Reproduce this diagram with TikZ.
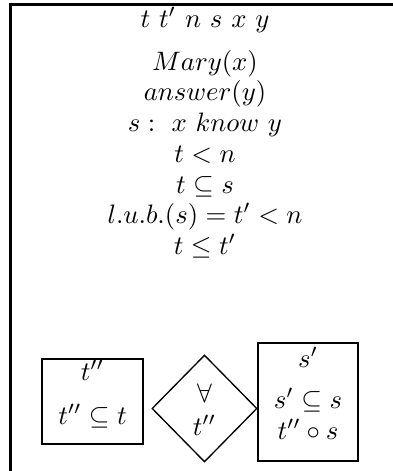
\documentclass[tikz,border=0pt]{standalone}
\usetikzlibrary{shapes.geometric}
\begin{document}
\begin{tikzpicture}[x=0.375pt,y=-0.375pt,
  txt/.style={anchor=base,inner sep=0pt,font=\fontsize{10}{12}\selectfont},
  frame/.style={line width=1.15pt},
  boxe/.style={draw,line width=0.5pt,inner sep=0pt,rectangle},
  dia/.style={draw,line width=0.5pt,inner sep=0pt,diamond}
]
\useasboundingbox (0,0) rectangle (393,471);
\coordinate (fb) at (10.5,471);
\coordinate (fc) at (10.5,4.5);
\coordinate (fr) at (393,4.5);
\draw[frame] (fb) -- (fc) -- (fr);
\node[txt] (t0) at (205,27) {$t\ t'\ n\ s\ x\ y$};
\node[txt] (t1) at (205,70) {$Mary(x)$};
\node[txt] (t2) at (205,100.7) {$answer(y)$};
\node[txt] (t3) at (205,131.4) {$s:\ x\ know\ y$};
\node[txt] (t4) at (205,162) {$t<n$};
\node[txt] (t5) at (205,193) {$t\subseteq s$};
\node[txt] (t6) at (205,223.5) {$l.u.b.(s)=t'<n$};
\node[txt] (t7) at (205,254) {$t\leq t'$};
% left box
\node[boxe,minimum width=37.9pt,minimum height=31.9pt] (lb) at (92.5,401.5) {};
\node[txt] (lb1) at (92.5,380) {$t''$};
\node[txt] (lb2) at (92.5,424) {$t''\subseteq t$};
% diamond
\node[dia,minimum width=39.4pt,minimum height=40.1pt] (dm) at (204.5,408.5) {};
\node[txt] (dm1) at (204.5,402) {$\forall$};
\node[txt] (dm2) at (204.5,435) {$t''$};
% right box
\node[boxe,minimum width=37.5pt,minimum height=44.25pt] (rb) at (308,402) {};
\node[txt] (rb1) at (308,367) {$s'$};
\node[txt] (rb2) at (308,408) {$s'\subseteq s$};
\node[txt] (rb3) at (308,439) {$t''\circ s$};
\end{tikzpicture}
\end{document}
